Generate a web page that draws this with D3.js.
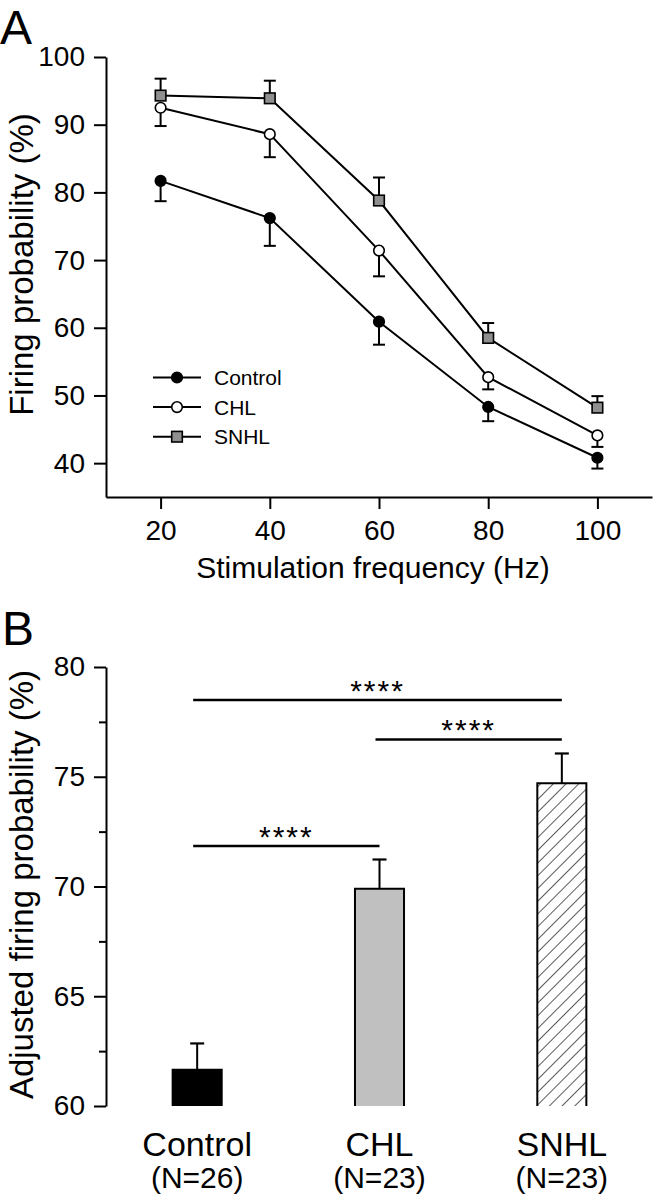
<!DOCTYPE html>
<html>
<head>
<meta charset="utf-8">
<script src="https://cdn.jsdelivr.net/npm/d3@7"></script>
<style>
  html, body { margin: 0; padding: 0; background: #fff; }
  svg { display: block; font-family: "Liberation Sans", Arial, Helvetica, sans-serif; }
</style>
</head>
<body>
<svg id="chart" width="653" height="1199"></svg>
<script>
// ---------- Panel A data ----------
const freqs = [20, 40, 60, 80, 100];
const freqTicks = [20, 40, 60, 80, 100];
const probTicks = [40, 50, 60, 70, 80, 90, 100];
const seriesNames = ["Control", "CHL", "SNHL"];
const controlMean = [81.7, 76.2, 60.9, 48.3, 40.8];
const controlSem  = [3.0, 4.1, 3.4, 2.1, 1.6];
const chlMean     = [92.5, 88.6, 71.4, 52.7, 44.1];
const chlSem      = [2.7, 3.4, 3.8, 1.8, 1.7];
const snhlMean    = [94.3, 93.9, 78.8, 58.5, 48.2];
const snhlSem     = [2.5, 2.6, 3.4, 2.2, 1.7];

// ---------- Panel B data ----------
const groups   = ["Control", "CHL", "SNHL"];
const nLabels  = ["(N=26)", "(N=23)", "(N=23)"];
const barMean  = [61.65, 69.9, 74.7];
const barSem   = [1.2, 1.33, 1.36];
const adjMajorTicks = [60, 65, 70, 75, 80];
const adjMinorTicks = [62.5, 67.5, 72.5, 77.5];
const sigPairs  = [["Control", "SNHL"], ["CHL", "SNHL"], ["Control", "CHL"]];
const sigLevels = [78.5, 76.7, 71.85];
const sigLabels = ["****", "****", "****"];

// ---------- drawing ----------
const svg = d3.select("#chart");
const FONT = '"Liberation Sans", Arial, Helvetica, sans-serif';

const defs = svg.append("defs");
const pat = defs.append("pattern")
  .attr("id", "hatch").attr("patternUnits", "userSpaceOnUse")
  .attr("width", 9).attr("height", 9)
  .attr("patternTransform", "rotate(45)");
pat.append("rect").attr("width", 9).attr("height", 9).attr("fill", "#fff");
pat.append("line").attr("x1", 0).attr("y1", 0).attr("x2", 0).attr("y2", 9)
  .attr("stroke", "#000").attr("stroke-width", 1.3);

function styleAxis(g, fontSize) {
  g.select(".domain").attr("stroke", "#000").attr("stroke-width", 2);
  g.selectAll(".tick line").attr("stroke", "#000").attr("stroke-width", 2);
  g.selectAll(".tick text").attr("fill", "#000")
    .style("font-size", fontSize + "px").style("font-family", FONT);
}

// Panel A
const xA = d3.scaleLinear().domain([10, 110]).range([106, 652]);
const yA = d3.scaleLinear().domain([35, 100]).range([497, 57]);

const gyA = svg.append("g").attr("transform", "translate(106,0)")
  .call(d3.axisLeft(yA).tickValues(probTicks).tickSize(12).tickSizeOuter(0).tickPadding(9).tickFormat(d3.format("d")));
styleAxis(gyA, 28);
const gxA = svg.append("g").attr("transform", "translate(0,497)")
  .call(d3.axisBottom(xA).tickValues(freqTicks).tickSize(12).tickSizeOuter(0).tickPadding(11).tickFormat(d3.format("d")));
styleAxis(gxA, 28);

const series = [
  { name: seriesNames[0], mean: controlMean, sem: controlSem, dir: -1, shape: "circle", fill: "#000" },
  { name: seriesNames[1], mean: chlMean,     sem: chlSem,     dir: -1, shape: "circle", fill: "#fff" },
  { name: seriesNames[2], mean: snhlMean,    sem: snhlSem,    dir:  1, shape: "square", fill: "#8f8f8f" }
];

const line = d3.line().x(d => xA(d.f)).y(d => yA(d.v));

function drawMarker(g, s, cx, cy) {
  if (s.shape === "circle") {
    g.append("circle").attr("cx", cx).attr("cy", cy).attr("r", 5.3)
      .attr("fill", s.fill).attr("stroke", "#000").attr("stroke-width", 1.6);
  } else {
    g.append("rect").attr("x", cx - 5.3).attr("y", cy - 5.3).attr("width", 10.6).attr("height", 10.6)
      .attr("fill", s.fill).attr("stroke", "#000").attr("stroke-width", 1.6);
  }
}

series.forEach(s => {
  const pts = freqs.map((f, i) => ({ f, v: s.mean[i], e: s.sem[i] }));
  const g = svg.append("g");
  g.append("path").datum(pts).attr("d", line)
    .attr("fill", "none").attr("stroke", "#000").attr("stroke-width", 2);
  pts.forEach(p => {
    const x = xA(p.f), y0 = yA(p.v), y1 = yA(p.v + s.dir * p.e);
    g.append("line").attr("x1", x).attr("x2", x).attr("y1", y0).attr("y2", y1)
      .attr("stroke", "#000").attr("stroke-width", 2);
    g.append("line").attr("x1", x - 6).attr("x2", x + 6).attr("y1", y1).attr("y2", y1)
      .attr("stroke", "#000").attr("stroke-width", 2);
  });
  pts.forEach(p => drawMarker(g, s, xA(p.f), yA(p.v)));
});

// Legend
const legY0 = 377.5, legDY = 29.6;
series.forEach((s, i) => {
  const y = legY0 + i * legDY;
  const g = svg.append("g");
  g.append("line").attr("x1", 153).attr("x2", 201).attr("y1", y).attr("y2", y)
    .attr("stroke", "#000").attr("stroke-width", 2);
  drawMarker(g, s, 177, y);
  g.append("text").attr("x", 214).attr("y", y).attr("dy", "0.36em")
    .style("font-size", "21px").style("font-family", FONT).text(s.name);
});

// Panel A labels
svg.append("text").attr("x", 0).attr("y", 43.5).style("font-size", "48px").style("font-family", FONT).text("A");
svg.append("text").attr("transform", "translate(33,264.5) rotate(-90)").attr("text-anchor", "middle")
  .style("font-size", "33px").style("font-family", FONT).text("Firing probability (%)");
svg.append("text").attr("x", 373).attr("y", 578).attr("text-anchor", "middle")
  .style("font-size", "30px").style("font-family", FONT).text("Stimulation frequency (Hz)");

// Panel B
const yB = d3.scaleLinear().domain([60, 80]).range([1106, 667]);
const xB = d3.scaleBand().domain(groups).range([106, 653]).paddingInner(0.731).paddingOuter(0.3655);

const gyB = svg.append("g").attr("transform", "translate(106,0)")
  .call(d3.axisLeft(yB).tickValues(adjMajorTicks).tickSize(12).tickSizeOuter(0).tickPadding(9).tickFormat(d3.format("d")));
styleAxis(gyB, 28);
const gyBm = svg.append("g").attr("transform", "translate(106,0)")
  .call(d3.axisLeft(yB).tickValues(adjMinorTicks).tickSize(7).tickSizeOuter(0).tickFormat(""));
gyBm.select(".domain").remove();
styleAxis(gyBm, 28);

const barFills = ["#000", "#c0c0c0", "url(#hatch)"];
groups.forEach((gname, i) => {
  const x0 = xB(gname), w = xB.bandwidth(), cx = x0 + w / 2;
  const yTop = yB(barMean[i]), yBot = yB(60);
  svg.append("rect").attr("x", x0).attr("y", yTop).attr("width", w).attr("height", yBot - yTop)
    .attr("fill", barFills[i]);
  svg.append("path")
    .attr("d", `M${x0},${yBot}V${yTop}H${x0 + w}V${yBot}`)
    .attr("fill", "none").attr("stroke", "#000").attr("stroke-width", 2);
  const yE = yB(barMean[i] + barSem[i]);
  svg.append("line").attr("x1", cx).attr("x2", cx).attr("y1", yTop).attr("y2", yE)
    .attr("stroke", "#000").attr("stroke-width", 2);
  svg.append("line").attr("x1", cx - 7).attr("x2", cx + 7).attr("y1", yE).attr("y2", yE)
    .attr("stroke", "#000").attr("stroke-width", 2.2);
  svg.append("text").attr("x", cx).attr("y", 1156).attr("text-anchor", "middle")
    .style("font-size", "34px").style("font-family", FONT).text(gname);
  svg.append("text").attr("x", cx).attr("y", 1188).attr("text-anchor", "middle")
    .style("font-size", "30px").style("font-family", FONT).text(nLabels[i]);
});

sigPairs.forEach((pair, i) => {
  const xa = xB(pair[0]) + xB.bandwidth() / 2 - 4;
  const xb = xB(pair[1]) + xB.bandwidth() / 2;
  const y = yB(sigLevels[i]);
  svg.append("line").attr("x1", xa).attr("x2", xb).attr("y1", y).attr("y2", y)
    .attr("stroke", "#000").attr("stroke-width", 2.5);
  svg.append("text").attr("x", (xa + xb) / 2).attr("y", y + 1).attr("text-anchor", "middle")
    .style("font-size", "30px").style("font-family", FONT).style("letter-spacing", "2px")
    .text(sigLabels[i]);
});

svg.append("text").attr("x", 2).attr("y", 645).style("font-size", "48px").style("font-family", FONT).text("B");
svg.append("text").attr("transform", "translate(33,884.5) rotate(-90)").attr("text-anchor", "middle")
  .style("font-size", "33px").style("font-family", FONT).text("Adjusted firing probability (%)");
</script>
</body>
</html>
